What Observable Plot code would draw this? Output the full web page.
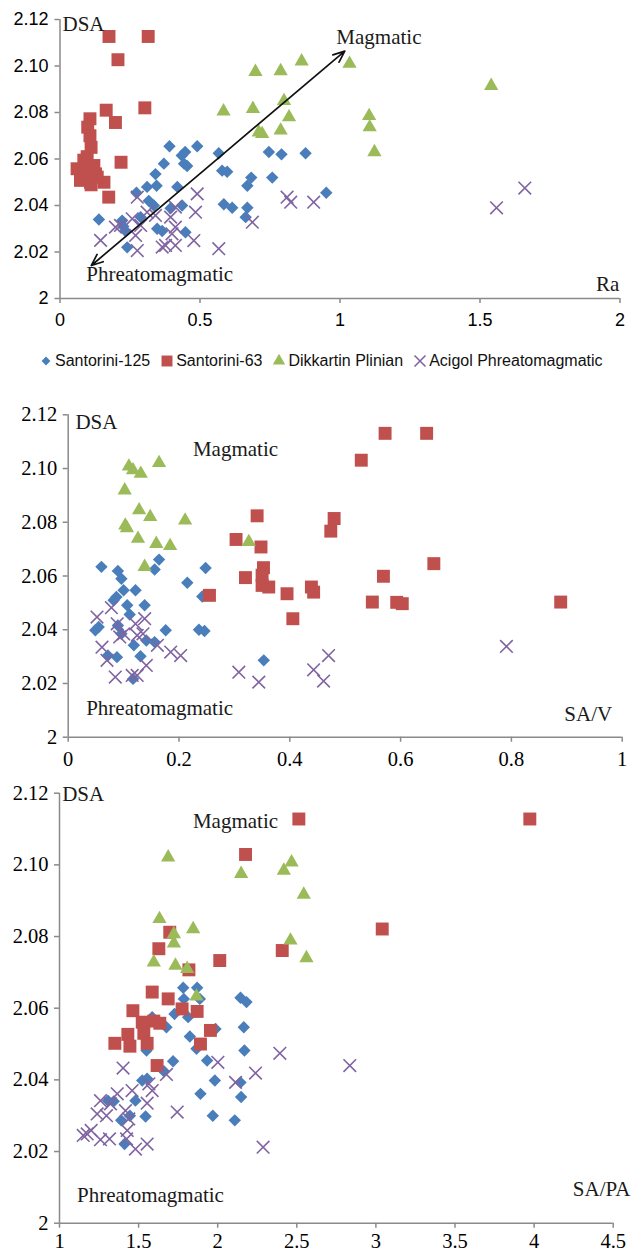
<!DOCTYPE html>
<html>
<head>
<meta charset="utf-8">
<script src="https://cdn.jsdelivr.net/npm/d3@7"></script>
<script src="https://cdn.jsdelivr.net/npm/@observablehq/plot@0.6"></script>
<style>
html,body{margin:0;padding:0;background:#fff;width:631px;height:1252px;overflow:hidden;position:relative}
.pane{position:absolute;left:0}
#p1{top:0}
#legend{top:343px;height:35px;width:631px;display:flex;align-items:center;padding-left:40px;box-sizing:border-box;font-family:"Liberation Sans",Arial,sans-serif;font-size:16px;color:#111}
#legend .item{display:flex;align-items:center;margin-right:11px}
#legend svg{margin-right:3px;display:block}
#p2{top:370px}
#p3{top:770px}
svg{display:block}
</style>
</head>
<body>
<div id="p1" class="pane"></div>
<div id="p2" class="pane"></div>
<div id="p3" class="pane"></div>
<div id="legend" class="pane"></div>
<script>
// ---------------- data ----------------
const seriesNames = ["Santorini-125", "Santorini-63", "Dikkartin Plinian", "Acigol Phreatomagmatic"];

const yTicks = [2, 2.02, 2.04, 2.06, 2.08, 2.10, 2.12];
const yTickLabels = ["2", "2.02", "2.04", "2.06", "2.08", "2.10", "2.12"];

const raTicks = [0, 0.5, 1, 1.5, 2];
const raTickLabels = ["0", "0.5", "1", "1.5", "2"];
const savTicks = [0, 0.2, 0.4, 0.6, 0.8, 1];
const savTickLabels = ["0", "0.2", "0.4", "0.6", "0.8", "1"];
const sapaTicks = [1, 1.5, 2, 2.5, 3, 3.5, 4, 4.5];
const sapaTickLabels = ["1", "1.5", "2", "2.5", "3", "3.5", "4", "4.5"];

// Panel 1: Ra vs DSA  [Ra, DSA]
const raSantorini125 = [[0.139,2.034],[0.222,2.0335],[0.234,2.029],[0.24,2.022],[0.226,2.031],[0.273,2.0455],[0.311,2.048],[0.345,2.0485],[0.341,2.0535],[0.371,2.058],[0.391,2.0655],[0.435,2.0615],[0.447,2.063],[0.443,2.058],[0.454,2.057],[0.419,2.048],[0.49,2.0655],[0.567,2.0625],[0.579,2.055],[0.597,2.0545],[0.317,2.042],[0.335,2.040],[0.288,2.035],[0.347,2.030],[0.365,2.029],[0.395,2.0388],[0.436,2.040],[0.448,2.0285],[0.585,2.0405],[0.615,2.039],[0.669,2.039],[0.663,2.035],[0.669,2.0485],[0.683,2.052],[0.746,2.063],[0.758,2.052],[0.791,2.062],[0.877,2.0625],[0.951,2.0455]];
const raSantorini63 = [[0.175,2.1127],[0.315,2.1127],[0.207,2.1027],[0.165,2.081],[0.303,2.082],[0.198,2.0757],[0.107,2.0773],[0.099,2.0737],[0.107,2.070],[0.111,2.065],[0.097,2.061],[0.085,2.0595],[0.218,2.0586],[0.061,2.0558],[0.121,2.0572],[0.073,2.0508],[0.109,2.050],[0.127,2.0536],[0.157,2.050],[0.174,2.0436],[0.133,2.0522],[0.111,2.0489],[0.09,2.0545]];
const raDikkartin = [[0.584,2.0805],[0.698,2.0975],[0.689,2.0816],[0.71,2.0715],[0.722,2.0708],[0.788,2.0978],[0.788,2.0723],[0.8,2.085],[0.818,2.078],[0.863,2.102],[1.034,2.101],[1.54,2.0915],[1.104,2.0785],[1.106,2.0737],[1.123,2.063]];
const raAcigol = [[0.145,2.025],[0.198,2.0307],[0.216,2.0314],[0.258,2.0343],[0.276,2.0436],[0.27,2.0271],[0.276,2.0206],[0.288,2.0314],[0.311,2.0371],[0.341,2.0357],[0.365,2.0221],[0.377,2.0228],[0.395,2.035],[0.40,2.0278],[0.412,2.0393],[0.412,2.0307],[0.412,2.0228],[0.478,2.0249],[0.484,2.0371],[0.49,2.045],[0.567,2.0214],[0.687,2.0328],[0.811,2.0436],[0.824,2.0414],[0.906,2.0414],[1.559,2.039],[1.66,2.0475]];

// Panel 2: SA/V vs DSA
const savSantorini125 = [[0.06,2.0634],[0.0897,2.0619],[0.096,2.059],[0.1,2.0547],[0.087,2.0522],[0.082,2.051],[0.1215,2.0547],[0.1065,2.0491],[0.111,2.0457],[0.138,2.0491],[0.164,2.0661],[0.156,2.0624],[0.215,2.0575],[0.248,2.063],[0.242,2.0524],[0.049,2.0398],[0.055,2.041],[0.0897,2.0416],[0.096,2.0385],[0.1185,2.0342],[0.141,2.036],[0.156,2.0354],[0.176,2.0398],[0.236,2.04],[0.246,2.0395],[0.0716,2.0304],[0.088,2.0298],[0.1305,2.0301],[0.117,2.0217],[0.353,2.0286]];
const savSantorini63 = [[0.341,2.0824],[0.303,2.0736],[0.348,2.0708],[0.3525,2.0631],[0.32,2.0594],[0.35,2.0603],[0.35,2.0565],[0.362,2.0559],[0.255,2.0528],[0.395,2.0534],[0.4055,2.0441],[0.439,2.0559],[0.443,2.054],[0.572,2.1131],[0.647,2.1131],[0.529,2.1031],[0.48,2.0814],[0.474,2.0767],[0.66,2.0646],[0.569,2.0599],[0.549,2.0503],[0.593,2.0502],[0.603,2.0497],[0.889,2.0503]];
const savDikkartin = [[0.1095,2.1008],[0.117,2.0994],[0.131,2.0981],[0.164,2.1021],[0.102,2.0919],[0.128,2.0845],[0.148,2.082],[0.103,2.0788],[0.106,2.0778],[0.126,2.0739],[0.159,2.072],[0.184,2.0712],[0.211,2.0807],[0.326,2.0727],[0.138,2.0634]];
const savAcigol = [[0.052,2.0447],[0.078,2.0482],[0.061,2.0335],[0.07,2.0286],[0.085,2.0224],[0.0885,2.0422],[0.093,2.0373],[0.1,2.0385],[0.1215,2.0422],[0.138,2.0441],[0.1245,2.0379],[0.135,2.0385],[0.1155,2.023],[0.1245,2.023],[0.141,2.0267],[0.161,2.0342],[0.185,2.0317],[0.203,2.0304],[0.308,2.0242],[0.344,2.0205],[0.443,2.0251],[0.461,2.0209],[0.47,2.0304],[0.791,2.0338]];

// Panel 3: SA/PA vs DSA
const sapaSantorini125 = [[1.782,2.0657],[1.870,2.0657],[1.786,2.0626],[1.887,2.0626],[2.144,2.0629],[2.182,2.0617],[1.586,2.0575],[1.727,2.0584],[1.813,2.0575],[1.676,2.0547],[1.986,2.0542],[2.165,2.0547],[1.824,2.0521],[1.866,2.0487],[1.55,2.0482],[2.169,2.0482],[1.718,2.0452],[1.933,2.0454],[1.66,2.0424],[1.523,2.0398],[1.554,2.0403],[1.982,2.0398],[2.144,2.0393],[1.306,2.0342],[1.343,2.034],[1.48,2.0342],[1.891,2.0361],[2.148,2.0352],[1.39,2.0287],[1.445,2.03],[1.544,2.0298],[1.969,2.03],[2.108,2.0287],[1.411,2.0221]];
const sapaSantorini63 = [[2.513,2.1128],[2.176,2.1029],[1.697,2.0812],[1.628,2.0766],[2.408,2.0761],[2.013,2.0733],[1.818,2.0707],[1.586,2.0645],[1.687,2.0626],[1.464,2.0593],[1.775,2.0598],[1.870,2.0591],[1.523,2.0561],[1.596,2.0564],[1.634,2.0558],[1.954,2.0538],[1.432,2.0527],[1.533,2.053],[1.35,2.0502],[1.445,2.0494],[1.554,2.0502],[1.891,2.05],[1.617,2.044],[3.973,2.1128],[3.04,2.0821]];
const sapaDikkartin = [[1.687,2.1021],[2.148,2.0975],[2.418,2.0984],[2.467,2.1007],[2.544,2.0917],[1.632,2.0849],[1.845,2.0821],[1.723,2.0807],[1.723,2.0781],[2.46,2.0789],[2.561,2.074],[1.596,2.0728],[1.733,2.0719],[1.807,2.071],[1.866,2.0633]];
const sapaAcigol = [[2.393,2.0474],[1.402,2.0433],[2.001,2.0449],[1.676,2.0415],[2.239,2.0419],[2.113,2.0393],[1.565,2.0389],[1.586,2.037],[1.459,2.037],[1.365,2.0361],[1.259,2.0342],[1.322,2.0333],[1.554,2.0335],[1.417,2.0314],[1.238,2.0305],[1.297,2.03],[1.744,2.031],[1.438,2.0291],[1.428,2.0259],[1.175,2.0249],[1.2,2.0259],[1.15,2.0245],[1.259,2.0233],[1.316,2.0235],[1.424,2.0235],[1.48,2.0207],[1.554,2.0221],[2.287,2.0212],[2.835,2.044]];

// annotations (data coordinates)
const raNotes = [
  {text: "DSA", x: 0.009, y: 2.1181, anchor: "start"},
  {text: "Magmatic", x: 1.139, y: 2.1124, anchor: "middle"},
  {text: "Phreatomagmatic", x: 0.356, y: 2.0103, anchor: "middle"},
  {text: "Ra", x: 1.998, y: 2.0063, anchor: "end"}
];
const raArrow = {a: [0.112, 2.0142], b: [1.017, 2.1064]};
const savNotes = [
  {text: "DSA", x: 0.013, y: 2.1174, anchor: "start"},
  {text: "Magmatic", x: 0.302, y: 2.1072, anchor: "middle"},
  {text: "Phreatomagmatic", x: 0.165, y: 2.0106, anchor: "middle"},
  {text: "SA/V", x: 0.982, y: 2.0087, anchor: "end"}
];
const sapaNotes = [
  {text: "DSA", x: 1.017, y: 2.1198, anchor: "start"},
  {text: "Magmatic", x: 2.1125, y: 2.1121, anchor: "middle"},
  {text: "Phreatomagmatic", x: 1.575, y: 2.0077, anchor: "middle"},
  {text: "SA/PA", x: 4.609, y: 2.0096, anchor: "end"}
];

// ---------------- styles ----------------
const AXIS = "#8a8a8a";
const SERIF = "'Liberation Serif','Times New Roman',serif";
const SANS = "'Liberation Sans',Arial,sans-serif";
const styles = [
  {symbol: "diamond2", fill: "#4a7ebb", r: 5.6},
  {symbol: "square", fill: "#c0504d", r: 7.3},
  {symbol: "triangle", fill: "#9bbb59", r: 5.3},
  {symbol: "times", stroke: "#8064a2", r: 5.8}
];

function seriesMarks(list) {
  return list.map((data, i) => {
    const s = styles[i];
    return Plot.dot(data, {
      x: d => d[0], y: d => d[1], symbol: s.symbol, r: s.r,
      fill: s.fill || "none", stroke: s.stroke || "none",
      strokeWidth: s.stroke ? 1.6 : 0
    });
  });
}

function panel(cfg) {
  const fmtY = d => yTickLabels[yTicks.indexOf(d)];
  const fmtX = d => cfg.xLabels[cfg.xTicks.indexOf(d)];
  const marks = [
    Plot.ruleX([cfg.xDomain[0]], {stroke: AXIS, strokeWidth: 1.5}),
    Plot.ruleY([2], {stroke: AXIS, strokeWidth: 1.5}),
    Plot.axisY(yTicks, {anchor: "left", tickSize: 5, tickPadding: cfg.yPad, stroke: AXIS, strokeWidth: 1.5, fill: "#000", label: null, tickFormat: fmtY, fontSize: cfg.tickSize, fontFamily: cfg.tickFont}),
    Plot.axisX(cfg.xTicks, {anchor: "bottom", tickSize: 5, tickPadding: cfg.xPad, stroke: AXIS, strokeWidth: 1.5, fill: "#000", label: null, tickFormat: fmtX, fontSize: cfg.tickSize, fontFamily: cfg.tickFont}),
    ...seriesMarks(cfg.series)
  ];
  if (cfg.arrow) {
    const {a, b} = cfg.arrow;
    const mid = [(a[0] + b[0]) / 2, (a[1] + b[1]) / 2];
    const segs = [{x1: mid[0], y1: mid[1], x2: b[0], y2: b[1]}, {x1: mid[0], y1: mid[1], x2: a[0], y2: a[1]}];
    marks.push(Plot.arrow(segs, {x1: "x1", y1: "y1", x2: "x2", y2: "y2", stroke: "#111", strokeWidth: 1.7, headLength: 11, headAngle: 45}));
  }
  for (const n of cfg.notes) {
    marks.push(Plot.text([n], {x: "x", y: "y", text: "text", textAnchor: n.anchor, fontFamily: SERIF, fontSize: 21, fill: "#1a1a1a"}));
  }
  return Plot.plot({
    width: 631, height: cfg.height,
    marginTop: cfg.mt, marginBottom: cfg.mb, marginLeft: cfg.ml, marginRight: cfg.mr,
    x: {domain: cfg.xDomain},
    y: {domain: [2, 2.12]},
    style: {fontFamily: cfg.tickFont, fontSize: cfg.tickSize + "px", background: "transparent", color: "#000", overflow: "visible"},
    marks
  });
}

document.getElementById("p1").appendChild(panel({
  height: 335, mt: 19, mb: 37, ml: 59.5, mr: 11.5,
  xDomain: [0, 2], xTicks: raTicks, xLabels: raTickLabels,
  tickFont: SANS, tickSize: 18, xPad: 10, yPad: 6.5,
  series: [raSantorini125, raSantorini63, raDikkartin, raAcigol],
  notes: raNotes, arrow: raArrow
}));

document.getElementById("p2").appendChild(panel({
  height: 400, mt: 44.3, mb: 33.3, ml: 67.7, mr: 9.3,
  xDomain: [0, 1], xTicks: savTicks, xLabels: savTickLabels,
  tickFont: SERIF, tickSize: 20.5, xPad: 9.5, yPad: 6,
  series: [savSantorini125, savSantorini63, savDikkartin, savAcigol],
  notes: savNotes
}));

document.getElementById("p3").appendChild(panel({
  height: 482, mt: 22.7, mb: 29.3, ml: 59, mr: 18.3,
  xDomain: [1, 4.5], xTicks: sapaTicks, xLabels: sapaTickLabels,
  tickFont: SERIF, tickSize: 20.5, xPad: 5.5, yPad: 6,
  series: [sapaSantorini125, sapaSantorini63, sapaDikkartin, sapaAcigol],
  notes: sapaNotes
}));

// legend
const legend = document.getElementById("legend");
seriesNames.forEach((name, i) => {
  const s = styles[i];
  const item = document.createElement("div");
  item.className = "item";
  const size = 12;
  const svg = d3.create("svg").attr("width", size).attr("height", size).attr("viewBox", `${-size/2} ${-size/2} ${size} ${size}`).style("overflow", "visible");
  const symMap = {diamond2: d3.symbolDiamond2, square: d3.symbolSquare, triangle: d3.symbolTriangle, times: d3.symbolTimes};
  const area = {diamond2: 50, square: 120, triangle: 66, times: 80}[s.symbol];
  svg.append("path").attr("d", d3.symbol(symMap[s.symbol], area)())
    .attr("fill", s.fill || "none").attr("stroke", s.stroke || "none").attr("stroke-width", s.stroke ? 1.6 : 0);
  item.appendChild(svg.node());
  const t = document.createElement("span");
  t.textContent = name;
  item.appendChild(t);
  legend.appendChild(item);
});
</script>
</body>
</html>
